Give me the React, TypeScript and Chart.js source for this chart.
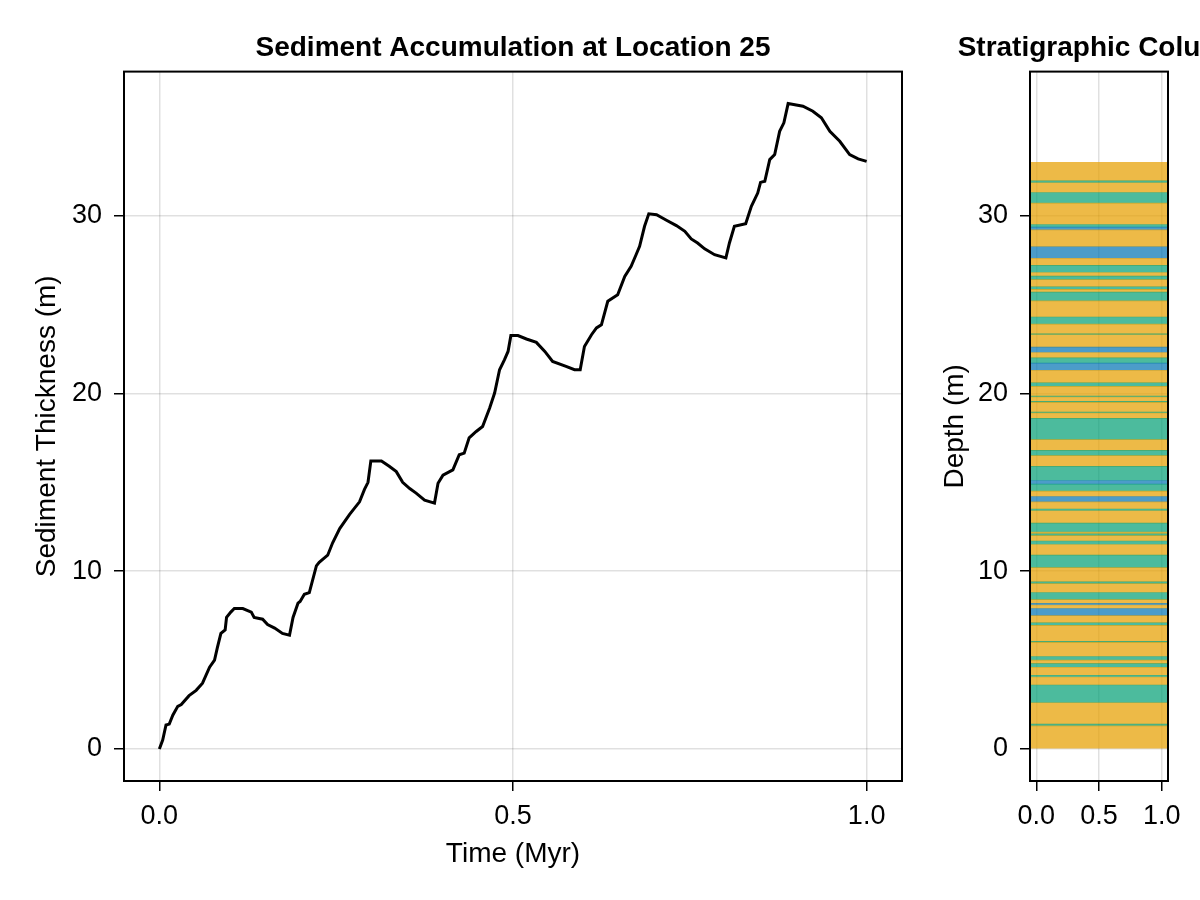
import { useEffect, useRef } from 'react'
import { Chart, registerables } from 'chart.js'

Chart.register(...registerables)

// ── DADOS ───────────────────────────────────────────────────────────────────

const timeMyr = [
  0, 0.0047, 0.0094, 0.014, 0.019, 0.026, 0.031, 0.042, 0.052, 0.061, 0.071, 0.078, 0.082, 0.087, 0.093,
  0.095, 0.101, 0.106, 0.118, 0.13, 0.134, 0.146, 0.153, 0.163, 0.174, 0.184, 0.189, 0.196, 0.199, 0.205,
  0.212, 0.222, 0.226, 0.238, 0.245, 0.255, 0.269, 0.283, 0.29, 0.295, 0.299, 0.314, 0.325, 0.335, 0.344,
  0.354, 0.363, 0.375, 0.389, 0.394, 0.401, 0.415, 0.424, 0.431, 0.438, 0.448, 0.457, 0.467, 0.474, 0.481,
  0.488, 0.493, 0.497, 0.507, 0.519, 0.533, 0.545, 0.556, 0.575, 0.587, 0.595, 0.601, 0.611, 0.618, 0.625,
  0.634, 0.648, 0.658, 0.667, 0.674, 0.679, 0.686, 0.692, 0.703, 0.717, 0.731, 0.743, 0.752, 0.761, 0.771,
  0.785, 0.801, 0.806, 0.813, 0.829, 0.837, 0.846, 0.85, 0.856, 0.863, 0.87, 0.877, 0.883, 0.889, 0.91,
  0.924, 0.936, 0.948, 0.962, 0.976, 0.988, 1.0,
]

const thicknessM = [
  0, 0.5, 1.35, 1.4, 1.9, 2.4, 2.5, 3.0, 3.3, 3.7, 4.6, 5.0, 5.7, 6.5, 6.7,
  7.4, 7.7, 7.9, 7.9, 7.7, 7.4, 7.3, 7.0, 6.8, 6.5, 6.4, 7.4, 8.2, 8.3, 8.7,
  8.8, 10.3, 10.5, 10.9, 11.6, 12.4, 13.2, 13.9, 14.6, 15.0, 16.2, 16.2, 15.9, 15.6, 15.0,
  14.65, 14.39, 14.0, 13.83, 14.95, 15.4, 15.7, 16.55, 16.64, 17.5, 17.86, 18.14, 19.18, 20.02, 21.33,
  21.9, 22.36, 23.25, 23.25, 23.06, 22.87, 22.36, 21.8, 21.52, 21.33, 21.33, 22.64, 23.3, 23.68, 23.86,
  25.18, 25.55, 26.58, 27.15, 27.8, 28.27, 29.4, 30.1, 30.05, 29.74, 29.44, 29.12, 28.69, 28.46, 28.13,
  27.8, 27.62, 28.46, 29.4, 29.55, 30.52, 31.27, 31.87, 31.93, 33.15, 33.43, 34.74, 35.22, 36.3, 36.15,
  35.87, 35.5, 34.74, 34.18, 33.43, 33.19, 33.05,
]

// topo de cada camada (m), base da primeira = 0
const layerTops = [
  1.3, 1.4, 2.6, 3.6, 4.05, 4.15, 4.6, 4.8, 5.0, 5.2, 6.0, 6.05, 6.95, 7.1, 7.5, 7.9, 8.1, 8.2, 8.4, 8.8,
  9.3, 9.4, 10.2, 10.9, 11.5, 11.7, 12.0, 12.1, 12.2, 12.7, 13.4, 13.5, 13.9, 14.2, 14.5, 14.9, 15.1, 15.9,
  16.5, 16.8, 17.4, 18.6, 18.9, 18.95, 19.5, 19.55, 19.8, 19.85, 20.4, 20.6, 21.3, 21.7, 22.0, 22.3, 22.6,
  23.3, 23.35, 23.9, 24.3, 25.2, 25.7, 25.85, 26.0, 26.4, 26.6, 26.8, 27.2, 27.6, 28.25, 29.2, 29.35, 29.5,
  30.7, 31.3, 31.85, 31.95, 33.0,
]

const layerFacies = [
  'O', 'G', 'O', 'G', 'O', 'G', 'O', 'G', 'O', 'G', 'O', 'G', 'O', 'G', 'O', 'B', 'O', 'B', 'O', 'G',
  'O', 'G', 'O', 'G', 'O', 'G', 'O', 'G', 'O', 'G', 'O', 'G', 'O', 'B', 'O', 'G', 'B', 'G',
  'O', 'G', 'O', 'G', 'O', 'G', 'O', 'G', 'O', 'G', 'O', 'G', 'O', 'B', 'G', 'O', 'B',
  'O', 'G', 'O', 'G', 'O', 'G', 'O', 'G', 'O', 'G', 'O', 'G', 'O', 'B', 'O', 'B', 'G',
  'O', 'G', 'O', 'G', 'O',
]

const faciesColors: Record<string, string> = {
  O: 'rgba(230,159,0,0.72)',
  G: 'rgba(0,158,115,0.7)',
  B: 'rgba(0,114,178,0.7)',
}

const xTicks = [0, 0.5, 1]
const yTicks = [0, 10, 20, 30]

// ── ESTILO ──────────────────────────────────────────────────────────────────

const FONT = "'Liberation Sans', Arial, sans-serif"
const tickFont = { family: FONT, size: 27 }
const labelFont = { family: FONT, size: 28 }
const titleFont = { family: FONT, size: 28, weight: 'bold' as const }
const GRID = 'rgba(0,0,0,0.12)'

const framePlugin = {
  id: 'frame',
  afterDatasetsDraw(chart: Chart) {
    const { ctx, chartArea: a } = chart
    ctx.save()
    ctx.strokeStyle = '#000'
    ctx.lineWidth = 2
    ctx.strokeRect(a.left, a.top, a.right - a.left, a.bottom - a.top)
    ctx.restore()
  },
}

function xScale(title: string | null) {
  return {
    type: 'linear' as const, position: 'bottom' as const, min: -0.05, max: 1.05, offset: false,
    afterBuildTicks: (s: any) => { s.ticks = xTicks.map(v => ({ value: v })) },
    afterFit: (s: any) => { s.height = 119 },
    ticks: { font: tickFont, color: '#000', padding: 9, autoSkip: false, maxRotation: 0, minRotation: 0,
      callback: (v: any) => Number(v).toFixed(1) },
    grid: { offset: false, color: GRID, lineWidth: 1.5, tickColor: '#000', tickLength: 10, tickWidth: 1.5 },
    border: { display: false },
    title: { display: !!title, text: title ?? '', font: labelFont, color: '#000', padding: { top: 0, bottom: 29 } },
  }
}

function yScale(title: string, width: number, titlePad: number) {
  return {
    type: 'linear' as const, position: 'left' as const, min: -1.8, max: 38.1,
    afterBuildTicks: (s: any) => { s.ticks = yTicks.map(v => ({ value: v })) },
    afterFit: (s: any) => { s.width = width },
    ticks: { font: tickFont, color: '#000', padding: 12, callback: (v: any) => String(v) },
    grid: { color: GRID, lineWidth: 1.5, tickColor: '#000', tickLength: 10, tickWidth: 1.5 },
    border: { display: false },
    title: { display: true, text: title, font: labelFont, color: '#000', padding: { top: titlePad, bottom: 0 } },
  }
}

// eixo vazio à direita, só para reservar espaço sem apertar o título
function spacerScale(width: number) {
  return {
    type: 'linear' as const, position: 'right' as const, min: 0, max: 1,
    afterFit: (s: any) => { s.width = width },
    ticks: { display: false }, grid: { display: false }, border: { display: false },
  }
}

function titleOpts(text: string) {
  return {
    display: true, text, font: titleFont, color: '#000',
    padding: { top: 31, bottom: 7 },
  }
}

// ── GRÁFICOS ────────────────────────────────────────────────────────────────

function ThicknessChart() {
  const ref = useRef<HTMLCanvasElement>(null)
  useEffect(() => {
    if (!ref.current) return
    const chart = new Chart(ref.current, {
      type: 'line',
      data: {
        datasets: [{
          data: timeMyr.map((t, i) => ({ x: t, y: thicknessM[i] })),
          borderColor: '#000', borderWidth: 3, pointRadius: 0, tension: 0, fill: false,
        }],
      },
      options: {
        responsive: false, animation: false,
        layout: { padding: 0 },
        plugins: {
          legend: { display: false }, tooltip: { enabled: false },
          title: { ...titleOpts('Sediment Accumulation at Location 25'), fullSize: false },
        },
        scales: {
          x: xScale('Time (Myr)'),
          y: yScale('Sediment Thickness (m)', 124, 30),
          yr: spacerScale(18),
        },
      },
      plugins: [framePlugin],
    })
    return () => chart.destroy()
  }, [])
  return <canvas ref={ref} width={920} height={900} style={{ position: 'absolute', left: 0, top: 0 }} />
}

function ColumnChart() {
  const ref = useRef<HTMLCanvasElement>(null)
  useEffect(() => {
    if (!ref.current) return
    const chart = new Chart(ref.current, {
      type: 'bar',
      data: {
        labels: [''],
        datasets: layerTops.map((top, i) => ({
          data: [[i === 0 ? 0 : layerTops[i - 1], top]] as any,
          backgroundColor: faciesColors[layerFacies[i]],
          borderWidth: 0, grouped: false, barPercentage: 1, categoryPercentage: 1,
          xAxisID: 'x', yAxisID: 'y',
        })),
      },
      options: {
        responsive: false, animation: false,
        layout: { padding: 0 },
        plugins: {
          legend: { display: false }, tooltip: { enabled: false },
          title: { ...titleOpts('Stratigraphic Column'), fullSize: true },
        },
        scales: {
          x: { type: 'category', display: false, offset: true },
          x2: xScale(null) as any,
          y: yScale('Depth (m)', 110, 18),
          yr: spacerScale(112),
        },
      },
      plugins: [framePlugin],
    })
    return () => chart.destroy()
  }, [])
  return <canvas ref={ref} width={360} height={900} style={{ position: 'absolute', left: 920, top: 0 }} />
}

export default function App() {
  return (
    <div style={{ position: 'absolute', left: 0, top: 0, width: 1200, height: 900, overflow: 'hidden', background: '#fff' }}>
      <ThicknessChart />
      <ColumnChart />
    </div>
  )
}
